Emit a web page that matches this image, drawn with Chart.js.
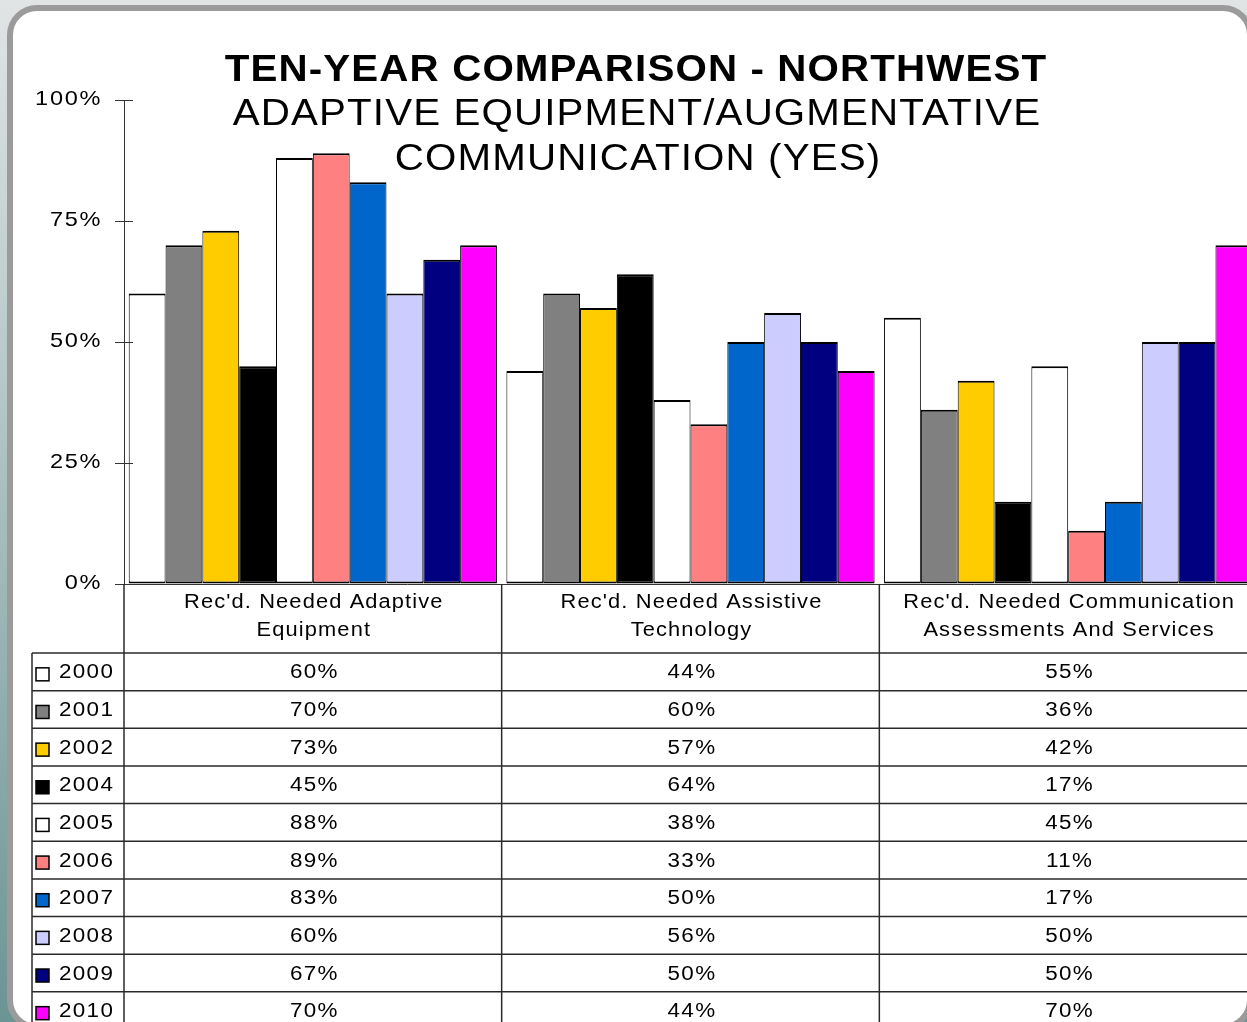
<!DOCTYPE html>
<html>
<head>
<meta charset="utf-8">
<title>Ten-Year Comparison - Northwest</title>
<script src="https://cdn.jsdelivr.net/npm/chart.js@4.4.1/dist/chart.umd.min.js"></script>
<style>
  html, body { margin: 0; padding: 0; width: 1247px; height: 1022px; overflow: hidden; }
  body {
    position: relative;
    background: linear-gradient(to bottom, #e1e4e4 0%, #b3c6c6 40%, #6b9494 100%);
    font-family: "Liberation Sans", Arial, sans-serif;
  }
  .panel {
    position: absolute; left: 7px; top: 5px;
    width: 1234px; height: 1013px;
    border: 6px solid #9b9b9b; border-radius: 30px;
    background: #fff;
  }
  #chart { position: absolute; left: 0; top: 0; }
</style>
</head>
<body>
<div class="panel"></div>
<canvas id="chart" width="1270" height="1022"></canvas>
<script>
// Survey categories (two-line labels)
const categories = [
    ["Rec'd. Needed Adaptive", "Equipment"],
    ["Rec'd. Needed Assistive", "Technology"],
    ["Rec'd. Needed Communication", "Assessments And Services"]
];

const years = ['2000', '2001', '2002', '2004', '2005', '2006', '2007', '2008', '2009', '2010'];
const yearColors = ['#ffffff', '#808080', '#ffcc00', '#000000', '#ffffff',
                    '#ff8080', '#0066cc', '#ccccff', '#000080', '#ff00ff'];

// Percent answering YES, one value per year
const adaptiveEquipment   = [60, 70, 73, 45, 88, 89, 83, 60, 67, 70];
const assistiveTechnology = [44, 60, 57, 64, 38, 33, 50, 56, 50, 44];
const communicationServ   = [55, 36, 42, 17, 45, 11, 17, 50, 50, 70];
const seriesByCategory = [adaptiveEquipment, assistiveTechnology, communicationServ];

const yTicks = [0, 25, 50, 75, 100];

const FONT = "'Liberation Sans', Arial, sans-serif";
const STRETCH = 1.12;   // text is drawn a little wide

function wideText(ctx, text, x, y, align) {
    ctx.save();
    ctx.translate(x, y);
    ctx.scale(STRETCH, 1);
    ctx.textAlign = align;
    ctx.fillText(text, 0, 0);
    ctx.restore();
}

// Title, y labels, inner tick stubs and the data table under the axis
const tablePlugin = {
    id: 'dataTable',
    afterDraw(chart) {
        const { ctx, scales: { x, y } } = chart;
        const half = (x.getPixelForValue(1) - x.getPixelForValue(0)) / 2;
        const edges = [x.getPixelForValue(0) - half, ...categories.map((c, i) => x.getPixelForValue(i) + half)];
        const base = y.getPixelForValue(0);
        const tableTop = 653, rowH = 37.65, legendLeft = 32;

        ctx.save();
        const line = (x1, y1, x2, y2) => {
            ctx.beginPath(); ctx.moveTo(x1, y1); ctx.lineTo(x2, y2); ctx.stroke();
        };

        // tick stubs inside the plot
        ctx.strokeStyle = '#333';
        ctx.lineWidth = 1;
        yTicks.forEach(v => {
            const py = Math.round(y.getPixelForValue(v)) + 0.5;
            line(x.left, py, x.left + 9, py);
        });

        // table grid
        ctx.strokeStyle = '#2a2a2a';
        ctx.lineWidth = 1.5;
        edges.forEach(e => line(e, base, e, chart.height));
        line(legendLeft, tableTop, legendLeft, chart.height);
        for (let r = 0; r <= years.length; r++) {
            line(legendLeft, tableTop + r * rowH, chart.width, tableTop + r * rowH);
        }

        ctx.fillStyle = '#000';
        ctx.textBaseline = 'middle';

        // y axis labels
        ctx.font = `21px ${FONT}`;
        ctx.letterSpacing = '1.5px';
        y.ticks.forEach(t => {
            wideText(ctx, t.value + '%', 102, y.getPixelForValue(t.value) - 1, 'right');
        });

        // category headers
        ctx.font = `19.5px ${FONT}`;
        ctx.letterSpacing = '1px';
        categories.forEach((lines, i) => {
            const cx = x.getPixelForValue(i) + 1;
            lines.forEach((t, j) => wideText(ctx, t, cx, 603 + j * 28, 'center'));
        });

        // rows: swatch, year, values
        ctx.font = `20px ${FONT}`;
        ctx.letterSpacing = '1.2px';
        years.forEach((yr, r) => {
            const cy = tableTop + r * rowH + rowH / 2 + 1;
            ctx.fillStyle = yearColors[r];
            ctx.fillRect(36, cy - 5, 13, 13);
            ctx.strokeStyle = '#000';
            ctx.lineWidth = 1.5;
            ctx.strokeRect(36, cy - 5, 13, 13);
            ctx.fillStyle = '#000';
            wideText(ctx, yr, 59, cy, 'left');
            seriesByCategory.forEach((vals, i) => {
                wideText(ctx, vals[r] + '%', x.getPixelForValue(i) + 1.5, cy, 'center');
            });
        });

        // title block
        ctx.textBaseline = 'alphabetic';
        ctx.letterSpacing = '1px';
        ctx.font = `bold 36px ${FONT}`;
        wideText(ctx, 'TEN-YEAR COMPARISON - NORTHWEST', 636, 81, 'center');
        ctx.font = `36px ${FONT}`;
        wideText(ctx, 'ADAPTIVE EQUIPMENT/AUGMENTATIVE', 637, 125, 'center');
        wideText(ctx, 'COMMUNICATION (YES)', 638, 170, 'center');
        ctx.restore();
    }
};

new Chart(document.getElementById('chart'), {
    type: 'bar',
    data: {
        labels: categories,
        datasets: years.map((yr, i) => ({
            label: yr,
            data: seriesByCategory.map(vals => vals[i]),
            backgroundColor: yearColors[i],
            borderColor: '#000',
            borderWidth: { top: 2, left: 1, right: 1, bottom: 2 },
            borderSkipped: false,
            barPercentage: 1.0,
            categoryPercentage: 0.975
        }))
    },
    options: {
        responsive: false,
        animation: false,
        layout: { padding: { top: 100, right: 13, bottom: 0, left: 0 } },
        plugins: {
            legend: { display: false },
            tooltip: { enabled: false }
        },
        scales: {
            x: {
                grid: { display: false },
                border: { display: true, color: '#333', width: 1 },
                ticks: { display: false },
                afterFit: s => { s.height = 438; }
            },
            y: {
                min: 0,
                max: 100,
                afterFit: s => { s.width = 124; },
                afterBuildTicks: s => { s.ticks = yTicks.map(v => ({ value: v })); },
                grid: { drawOnChartArea: false, drawTicks: true, tickLength: 9, color: '#333' },
                border: { display: true, color: '#333', width: 1 },
                ticks: { display: false }
            }
        }
    },
    plugins: [tablePlugin]
});
</script>
</body>
</html>
